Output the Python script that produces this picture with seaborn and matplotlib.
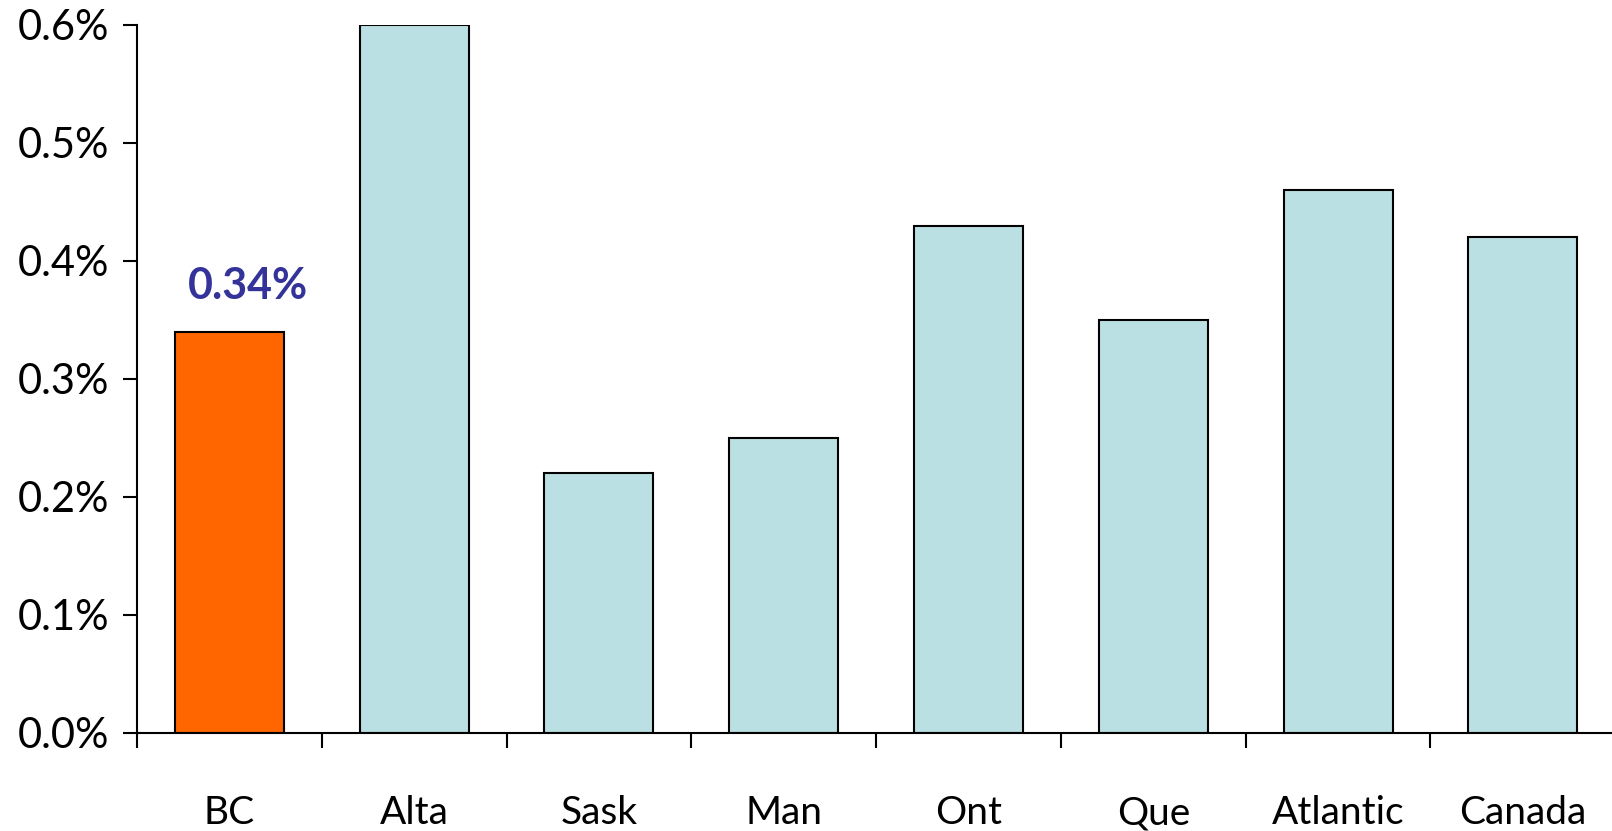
import matplotlib
matplotlib.use("Agg")
import matplotlib.pyplot as plt
import seaborn as sns
from matplotlib.ticker import FuncFormatter, FixedLocator

# Regional values (%)
regions = ["BC", "Alta", "Sask", "Man", "Ont", "Que", "Atlantic", "Canada"]
values = [0.34, 0.60, 0.22, 0.25, 0.43, 0.35, 0.46, 0.42]
highlight = "BC"
highlight_label = "0.34%"

bar_colors = ["#FF6600" if r == highlight else "#BBE0E3" for r in regions]

sns.set_theme(style="white")
plt.rcParams["font.family"] = ["Lato", "DejaVu Sans"]

fig = plt.figure(figsize=(16.12, 8.31), dpi=100)
ax = fig.add_axes([0.085, 0.118, 0.917, 0.852])

sns.barplot(x=regions, y=values, hue=regions, palette=bar_colors, legend=False,
            edgecolor="black", linewidth=1.5, width=0.59, saturation=1, ax=ax)

ax.set_xlim(-0.5, len(regions) - 0.5)
ax.set_ylim(0, 0.6)
ax.set_yticks([0, 0.1, 0.2, 0.3, 0.4, 0.5, 0.6])
ax.yaxis.set_major_formatter(FuncFormatter(lambda v, p: f"{v:.1f}%"))

# Category ticks sit between bars; labels sit at bar centres
ax.xaxis.set_major_locator(FixedLocator([i - 0.5 for i in range(len(regions) + 1)]))
ax.xaxis.set_minor_locator(FixedLocator(list(range(len(regions)))))
ax.xaxis.set_major_formatter(FuncFormatter(lambda v, p: ""))
ax.xaxis.set_minor_formatter(FuncFormatter(lambda v, p: regions[int(round(v))]))
ax.tick_params(axis="x", which="major", direction="out", length=11, width=1.5,
               color="black", bottom=True)
ax.tick_params(axis="x", which="minor", length=0, pad=45, labelsize=28,
               labelcolor="black", bottom=True)
ax.tick_params(axis="y", direction="out", length=10, width=1.5, color="black",
               pad=10, labelsize=30, labelcolor="black", left=True)
ax.set_xlabel("")
ax.set_ylabel("")

for side in ["top", "right"]:
    ax.spines[side].set_visible(False)
for side in ["left", "bottom"]:
    ax.spines[side].set_color("black")
    ax.spines[side].set_linewidth(1.5)

# Value label above the highlighted bar
i = regions.index(highlight)
ax.text(i + 0.1, values[i] + 0.022, highlight_label, ha="center", va="bottom",
        fontsize=31, fontweight="bold", color="#333399")

fig.savefig("out.png", dpi=100)
